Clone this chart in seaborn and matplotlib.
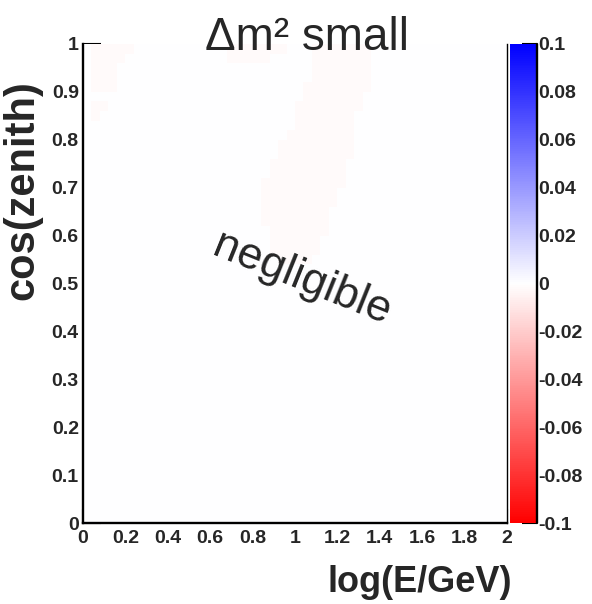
import numpy as np
import pandas as pd
import matplotlib
matplotlib.use("Agg")
import matplotlib.pyplot as plt
from matplotlib.colors import LinearSegmentedColormap
import seaborn as sns

# Binning: log10(E/GeV) in [0, 2], cos(zenith) in [0, 1]
E_MIN, E_MAX, N_E = 0.0, 2.0, 50
C_MIN, C_MAX, N_C = 0.0, 1.0, 50

# Faint residual cells; rows counted from cos(zenith)=1 downwards,
# each row fills energy bins [lo, hi)
faint_value = -0.0018

corner_rows = [0, 1, 2, 3, 4, 6, 7]
corner_lo = [1, 1, 1, 1, 1, 1, 1]
corner_hi = [6, 5, 4, 4, 4, 3, 2]

top_rows = [0, 1]
top_lo = [17, 17]
top_hi = [24, 22]

band_rows = list(range(23))
band_lo = [27, 27, 27, 27, 26, 26, 25, 25, 25, 24, 23, 23,
           22, 22, 21, 21, 21, 21, 21, 22, 22, 22, 23]
band_hi = [34, 34, 34, 34, 34, 33, 33, 32, 32, 32, 32, 32,
           31, 31, 31, 30, 30, 29, 29, 29, 28, 28, 27]

x_ticks = [0, 0.2, 0.4, 0.6, 0.8, 1, 1.2, 1.4, 1.6, 1.8, 2]
x_tick_labels = ["0", "0.2", "0.4", "0.6", "0.8", "1", "1.2", "1.4", "1.6", "1.8", "2"]
y_ticks = [0, 0.1, 0.2, 0.3, 0.4, 0.5, 0.6, 0.7, 0.8, 0.9, 1]
y_tick_labels = ["0", "0.1", "0.2", "0.3", "0.4", "0.5", "0.6", "0.7", "0.8", "0.9", "1"]
z_ticks = [0.1, 0.08, 0.06, 0.04, 0.02, 0, -0.02, -0.04, -0.06, -0.08, -0.1]
z_tick_labels = ["0.1", "0.08", "0.06", "0.04", "0.02", "0",
                 "-0.02", "-0.04", "-0.06", "-0.08", "-0.1"]

# Assemble the 2D histogram (row 0 = top row, cos in [0.98, 1])
grid = np.zeros((N_C, N_E))
for rows, lo, hi in ((corner_rows, corner_lo, corner_hi),
                     (top_rows, top_lo, top_hi),
                     (band_rows, band_lo, band_hi)):
    for r, a, b in zip(rows, lo, hi):
        grid[r, a:b] = faint_value
dx = (E_MAX - E_MIN) / N_E
dy = (C_MAX - C_MIN) / N_C
e_centers = E_MIN + dx * (np.arange(N_E) + 0.5)
c_centers = C_MAX - dy * (np.arange(N_C) + 0.5)
hist = pd.DataFrame(grid, index=np.round(c_centers, 3), columns=np.round(e_centers, 3))


def ex(v):
    return (v - E_MIN) / dx


def cy(v):
    return (C_MAX - v) / dy


sns.set_style("white")
plt.rcParams["font.family"] = ["Liberation Sans", "DejaVu Sans"]

W, H = 592, 604
fig = plt.figure(figsize=(W / 100, H / 100), dpi=100)
ax = fig.add_axes([83 / W, 81 / H, 424 / W, 479 / H])
cax = fig.add_axes([510 / W, 81 / H, 27 / W, 479 / H])

cmap = LinearSegmentedColormap.from_list(
    "rwb", [(0.0, (1, 0, 0)), (0.5, (1, 1, 1)), (1.0, (0, 0, 1))], N=256)

sns.heatmap(hist, ax=ax, cbar_ax=cax, cmap=cmap, vmin=-0.1, vmax=0.1,
            xticklabels=False, yticklabels=False)

# Main axis frame and ticks
for side in ("left", "bottom"):
    ax.spines[side].set_visible(True)
    ax.spines[side].set_linewidth(1.7)
    ax.spines[side].set_color("black")
ax.spines["right"].set_visible(True)
ax.spines["right"].set_linewidth(1.0)
ax.spines["right"].set_color("black")
ax.spines["top"].set_visible(False)

ax.set_xticks([ex(v) for v in x_ticks])
ax.set_xticklabels(x_tick_labels, rotation=0)
ax.set_xticks([ex(v) for v in np.arange(0, 2.001, 0.05)], minor=True)
ax.set_yticks([cy(v) for v in y_ticks])
ax.set_yticklabels(y_tick_labels, rotation=0)
ax.set_yticks([cy(v) for v in np.arange(0, 1.001, 0.02)], minor=True)

ax.tick_params(axis="x", which="major", direction="in", length=10, width=1.5,
               pad=5, labelsize=14, bottom=True, top=False, color="black")
ax.tick_params(axis="x", which="minor", direction="in", length=5, width=1.5,
               bottom=True, top=False, color="black")
ax.tick_params(axis="y", which="major", direction="in", length=13, width=1.5,
               pad=3, labelsize=14, left=True, right=False, color="black")
ax.tick_params(axis="y", which="minor", direction="in", length=7, width=1.5,
               left=True, right=False, color="black")
for lab in ax.get_xticklabels() + ax.get_yticklabels():
    lab.set_fontweight("bold")
ax.set_xlabel("")
ax.set_ylabel("")

# Colour scale on the right
cbar = ax.collections[0].colorbar
cbar.outline.set_visible(False)
cbar.set_ticks(z_ticks)
cbar.set_ticklabels(z_tick_labels)
cax.yaxis.set_ticks_position("right")
cax.tick_params(axis="y", which="major", direction="in", length=11, width=1.5,
                pad=1, labelsize=14, color="black")
cax.minorticks_off()
for lab in cax.get_yticklabels():
    lab.set_fontweight("bold")
cax.plot([1, 1], [0, 1], transform=cax.transAxes, color="black", lw=1.7,
         clip_on=False)

# Titles and annotation
fig.text(307 / W, 1 - 50 / H, "Δm² small", ha="center", va="baseline",
         fontsize=33)
fig.text(512 / W, 1 - 582 / H, "log(E/GeV)", ha="right", va="center",
         fontsize=26, fontweight="bold")
fig.text(2 / W, 1 - 190 / H, "cos(zenith)", rotation=90, ha="left",
         va="center", fontsize=30, fontweight="bold")
ax.text(ex(1.03), cy(0.51), "negligible", rotation=-22, ha="center",
        va="center", fontsize=32)

fig.savefig("out.png", dpi=100)
